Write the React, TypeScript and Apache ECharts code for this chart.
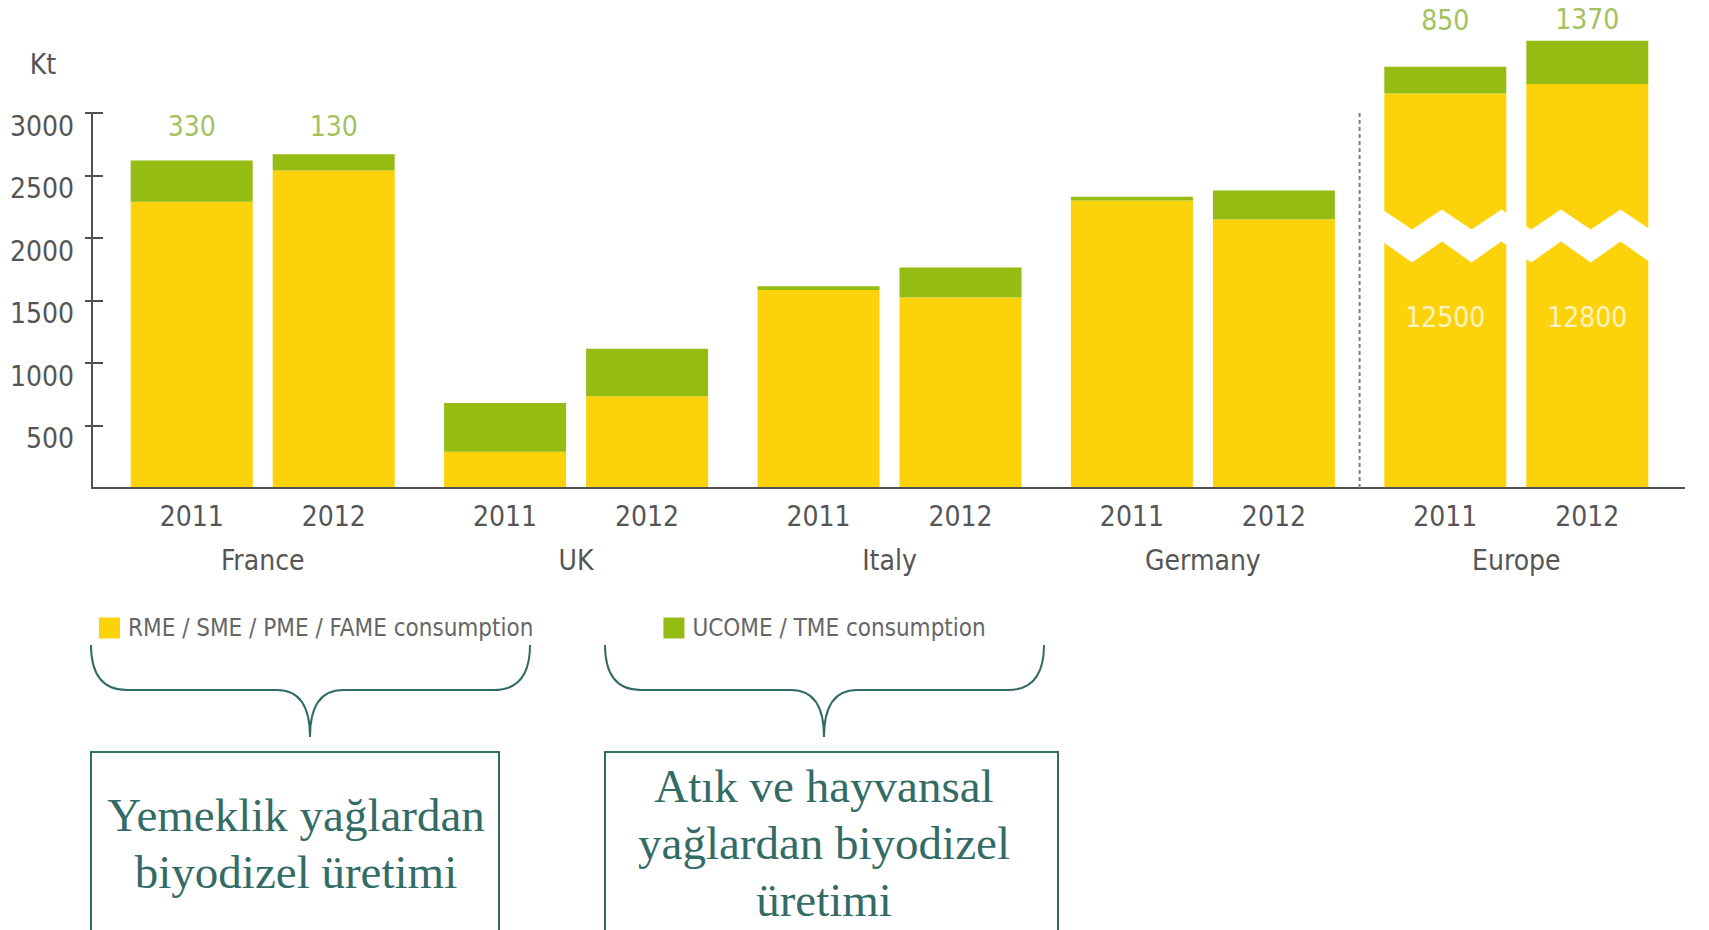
import React, { useEffect, useRef } from 'react';
import * as echarts from 'echarts';

// ---------- data ----------
const countries = ['France', 'UK', 'Italy', 'Germany', 'Europe'];
const years = ['2011', '2012'];
const rme2011 = [2290, 290, 1585, 2300, 12500];
const ucome2011 = [330, 390, 30, 30, 850];
const rme2012 = [2540, 735, 1525, 2150, 12800];
const ucome2012 = [130, 380, 240, 230, 1370];
const yTicks = [500, 1000, 1500, 2000, 2500, 3000];
const labelledCategories = ['France', 'Europe'];
const brokenCategory = 'Europe';
const legendNames = ['RME / SME / PME / FAME consumption', 'UCOME / TME consumption'];
const unitLabel = 'Kt';
const boxTexts = ['Yemeklik yağlardan\nbiyodizel üretimi', 'Atık ve hayvansal\nyağlardan biyodizel\nüretimi'];

// ---------- scale / style constants ----------
const EUROPE_SCALE = 0.2525; // compressed drawing scale of the broken Europe bars
const BREAK_LEVEL = 2020; // axis value where the zig-zag break is drawn
const Y_MAX = 3000;

const SANS = "'Liberation Sans Narrow', 'DejaVu Sans Condensed', 'Arial Narrow', 'Roboto', sans-serif";
const SERIF = "'Liberation Serif', 'DejaVu Serif', serif";
const YELLOW = '#FCD20A';
const GREEN = '#94BC12';
const GREEN_TXT = '#A3C15C';
const AXIS = '#505050';
const LABEL = '#555555';
const TEAL = '#336B66';
const FS = 28;

const BAR_W = 122;
const BAR_GAP = 20;
const GRID_LEFT = 106;
const GRID_RIGHT = 36;
const AXIS_X = 92;
const AXIS_RIGHT_END = 1685;

const dist2011: Record<string, number> = { France: 20, Europe: 32 };
const dist2012: Record<string, number> = { France: 14, Europe: 7 };

const shown = (v: number, i: number) => (countries[i] === brokenCategory ? v * EUROPE_SCALE : v);

function yellowSeries(values: number[], stack: string) {
  return {
    name: legendNames[0],
    type: 'bar',
    stack,
    barWidth: BAR_W,
    barGap: `${(BAR_GAP / BAR_W) * 100}%`,
    clip: false,
    itemStyle: { color: YELLOW },
    data: values.map((v, i) => ({
      value: shown(v, i),
      label:
        countries[i] === brokenCategory
          ? {
              show: true,
              position: 'insideBottom',
              distance: 157,
              formatter: () => String(v),
              color: '#FFF3C2',
              fontSize: FS,
              fontFamily: SANS,
            }
          : { show: false },
    })),
  };
}

function greenSeries(values: number[], stack: string, dist: Record<string, number>) {
  return {
    name: legendNames[1],
    type: 'bar',
    stack,
    barWidth: BAR_W,
    barGap: `${(BAR_GAP / BAR_W) * 100}%`,
    clip: false,
    itemStyle: { color: GREEN },
    data: values.map((v, i) => ({
      value: shown(v, i),
      label: labelledCategories.includes(countries[i])
        ? {
            show: true,
            position: 'top',
            distance: dist[countries[i]],
            formatter: () => String(v),
            color: GREEN_TXT,
            fontSize: FS,
            fontFamily: SANS,
          }
        : { show: false },
    })),
  };
}

export default function App() {
  const ref = useRef<HTMLDivElement>(null);

  useEffect(() => {
    if (!ref.current) return;
    const chart = echarts.init(ref.current, null, { renderer: 'svg' });
    const yOffset = GRID_LEFT - AXIS_X;
    const option: any = {
      animation: false,
      backgroundColor: '#ffffff',
      grid: {
        left: GRID_LEFT,
        right: GRID_RIGHT,
        top: 113,
        bottom: 442,
        containLabel: false,
        outerBoundsMode: 'none',
      },
      legend: {
        left: 94,
        top: 611,
        itemWidth: 21,
        itemHeight: 21,
        itemGap: 130,
        icon: 'rect',
        data: legendNames,
        textStyle: { fontSize: 24, color: '#666666', fontFamily: SANS, padding: [0, 0, 0, 3] },
      },
      xAxis: {
        type: 'category',
        data: countries,
        axisLine: { show: false },
        axisTick: { show: false },
        splitLine: { show: false },
        axisLabel: {
          interval: 0,
          margin: 6,
          formatter: (c: string) => `{y|${years[0]}}{g| }{y|${years[1]}}\n{c|${c}}`,
          rich: {
            y: { width: BAR_W, align: 'center', fontSize: FS, lineHeight: 44, color: LABEL, fontFamily: SANS },
            g: { width: BAR_GAP, fontSize: FS, lineHeight: 44 },
            c: { fontSize: FS, lineHeight: 44, color: LABEL, fontFamily: SANS },
          },
        },
      },
      yAxis: [
        {
          type: 'value',
          min: 0,
          max: Y_MAX,
          interval: 500,
          position: 'left',
          offset: yOffset,
          axisLine: { show: true, lineStyle: { color: AXIS, width: 2 } },
          axisTick: { show: true, length: 7, customValues: yTicks, lineStyle: { color: AXIS, width: 2 } },
          axisLabel: {
            customValues: yTicks,
            formatter: (v: number) => String(v),
            margin: 18,
            color: LABEL,
            fontSize: FS,
            fontFamily: SANS,
            verticalAlign: 'top',
            lineHeight: 26,
          },
          splitLine: { show: false },
        },
        {
          type: 'value',
          min: 0,
          max: Y_MAX,
          interval: 500,
          position: 'left',
          offset: yOffset,
          axisLine: { show: false },
          axisTick: { show: true, inside: true, length: 11, customValues: yTicks, lineStyle: { color: AXIS, width: 2 } },
          axisLabel: { show: false },
          splitLine: { show: false },
        },
      ],
      series: [
        yellowSeries(rme2011, 's2011'),
        greenSeries(ucome2011, 's2011', dist2011),
        yellowSeries(rme2012, 's2012'),
        greenSeries(ucome2012, 's2012', dist2012),
      ],
    };
    chart.setOption(option);

    const py = (v: number) => chart.convertToPixel({ yAxisIndex: 0 }, v) as number;
    const px = (c: string) => chart.convertToPixel({ xAxisIndex: 0 }, c) as number;
    const y0 = py(0);
    const yTop = py(Y_MAX);
    const idxBroken = countries.indexOf(brokenCategory);
    const cxE = px(brokenCategory);
    const cxPrev = px(countries[idxBroken - 1]);
    const yB = py(BREAK_LEVEL);

    // zig-zag break across the Europe bars
    const half = BAR_W + BAR_GAP / 2 + 2;
    const left = cxE - half;
    const right = cxE + half;
    const n = 9;
    const tops: number[][] = [];
    const bottoms: number[][] = [];
    for (let i = 0; i <= n; i++) {
      const x = left + ((right - left) * i) / n;
      const t = yB + (i % 2 === 0 ? -26 : -6);
      const b = yB + (i % 2 === 0 ? 6 : 27);
      tops.push([x, t]);
      bottoms.push([x, b]);
    }
    const zig = tops.concat(bottoms.reverse());

    const braceStyle = { stroke: TEAL, lineWidth: 2, fill: 'none' };
    const brace = (l: number, r: number, tip: number, yEnd: number, yMid: number, yTip: number) => {
      const k = 36;
      const t = 33;
      return [
        { type: 'bezierCurve', shape: { x1: l, y1: yEnd, x2: l + k, y2: yMid, cpx1: l, cpy1: yMid }, style: braceStyle, z: 100 },
        { type: 'line', shape: { x1: l + k, y1: yMid, x2: tip - t, y2: yMid }, style: braceStyle, z: 100 },
        { type: 'bezierCurve', shape: { x1: tip - t, y1: yMid, x2: tip, y2: yTip, cpx1: tip, cpy1: yMid }, style: braceStyle, z: 100 },
        { type: 'bezierCurve', shape: { x1: tip + t, y1: yMid, x2: tip, y2: yTip, cpx1: tip, cpy1: yMid }, style: braceStyle, z: 100 },
        { type: 'line', shape: { x1: tip + t, y1: yMid, x2: r - k, y2: yMid }, style: braceStyle, z: 100 },
        { type: 'bezierCurve', shape: { x1: r - k, y1: yMid, x2: r, y2: yEnd, cpx1: r, cpy1: yMid }, style: braceStyle, z: 100 },
      ];
    };

    const elements: any[] = [
      {
        type: 'text',
        z: 100,
        style: { text: unitLabel, x: 43, y: 64, align: 'center', verticalAlign: 'middle', fontSize: FS, fontFamily: SANS, fill: LABEL },
      },
      {
        type: 'line',
        z: 100,
        shape: { x1: AXIS_X - 1, y1: y0, x2: AXIS_RIGHT_END, y2: y0 },
        style: { stroke: AXIS, lineWidth: 2 },
      },
      {
        type: 'line',
        z: 100,
        shape: { x1: (cxE + cxPrev) / 2, y1: yTop, x2: (cxE + cxPrev) / 2, y2: y0 },
        style: { stroke: '#7d7d7d', lineWidth: 2, lineDash: [4, 3] },
      },
      { type: 'polygon', z: 100, shape: { points: zig }, style: { fill: '#ffffff', stroke: 'none' } },
      ...brace(91, 530, 310, 645, 690, 737),
      ...brace(605, 1044, 824, 645, 690, 737),
      { type: 'rect', z: 100, shape: { x: 91, y: 752, width: 408, height: 220 }, style: { fill: 'none', stroke: TEAL, lineWidth: 2 } },
      { type: 'rect', z: 100, shape: { x: 605, y: 752, width: 453, height: 220 }, style: { fill: 'none', stroke: TEAL, lineWidth: 2 } },
      {
        type: 'text',
        z: 100,
        style: { text: boxTexts[0], x: 296, y: 843, align: 'center', verticalAlign: 'middle', lineHeight: 57, fontSize: 47, fontFamily: SERIF, fill: TEAL },
      },
      {
        type: 'text',
        z: 100,
        style: { text: boxTexts[1], x: 824, y: 843, align: 'center', verticalAlign: 'middle', lineHeight: 57, fontSize: 47, fontFamily: SERIF, fill: TEAL },
      },
    ];
    chart.setOption({ graphic: elements });

    return () => chart.dispose();
  }, []);

  return (
    <div
      ref={ref}
      style={{ position: 'absolute', left: 0, top: 0, width: 1709, height: 930, background: '#ffffff' }}
    />
  );
}
